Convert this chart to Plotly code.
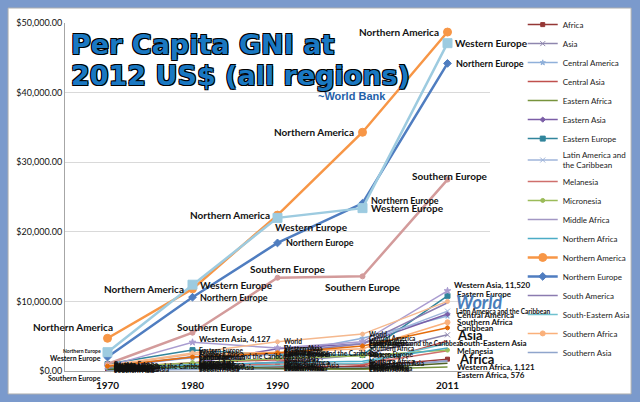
import plotly.graph_objects as go

years = ["1970", "1980", "1990", "2000", "2011"]

# per capita GNI, 2012 US$
africa = [250, 700, 700, 650, 1700]
asia = [200, 600, 1300, 2300, 5200]
central_america = [600, 1900, 2400, 4700, 7900]
central_asia = [500, 1200, 1600, 800, 4300]
eastern_africa = [150, 400, 300, 250, 576]
eastern_asia = [300, 1100, 3200, 3900, 8200]
eastern_europe = [1000, 3000, 2300, 2300, 10800]
latin_america = [600, 2100, 2500, 4000, 8600]
melanesia = [300, 800, 1000, 1000, 2900]
micronesia = [500, 1200, 1800, 2200, 3000]
middle_africa = [200, 600, 500, 350, 1500]
northern_africa = [250, 900, 1200, 1400, 3300]
northern_america = [4700, 11800, 22400, 34300, 48700]
northern_europe = [2000, 10600, 18400, 24100, 44200]
south_america = [500, 2000, 2500, 3900, 9800]
south_eastern_asia = [150, 500, 800, 1100, 4000]
southern_africa = [800, 2400, 2700, 3200, 7000]
southern_asia = [100, 250, 350, 450, 1400]
southern_europe = [1000, 5500, 13400, 13600, 27500]
western_europe = [2700, 12400, 22000, 23400, 47100]
western_asia = [700, 4127, 3300, 4200, 11520]
western_africa = [200, 700, 400, 350, 1121]
world = [800, 2600, 4200, 5300, 10000]
caribbean = [700, 2000, 2600, 3600, 6200]

# name, values, colour, marker, marker size, line width, in legend
series = [
    ("Africa", africa, "#953735", "square", 4, 1.5, True),
    ("Asia", asia, "#8e86ae", "x-thin-open", 5, 1.5, True),
    ("Central America", central_america, "#8fb0da", "star", 4, 1.5, True),
    ("Central Asia", central_asia, "#c0504d", None, 0, 1.5, True),
    ("Eastern Africa", eastern_africa, "#77933c", None, 0, 1.5, True),
    ("Eastern Asia", eastern_asia, "#7b5ea7", "diamond", 4, 1.5, True),
    ("Eastern Europe", eastern_europe, "#31859c", "square", 5, 1.5, True),
    ("Latin America and<br>the Caribbean", latin_america, "#9fb4da", "x-thin-open", 5, 1.5, True),
    ("Melanesia", melanesia, "#cf6f6c", None, 0, 1.5, True),
    ("Micronesia", micronesia, "#9bbb59", "circle", 4, 1.5, True),
    ("Middle Africa", middle_africa, "#a297c4", None, 0, 1.5, True),
    ("Northern Africa", northern_africa, "#4bacc6", None, 0, 1.5, True),
    ("Northern America", northern_america, "#f79646", "circle", 8, 2.5, True),
    ("Northern Europe", northern_europe, "#4f7dc0", "diamond", 6, 2.5, True),
    ("South America", south_america, "#8b7bb0", None, 0, 1.5, True),
    ("South-Eastern Asia", south_eastern_asia, "#6fc1cf", None, 0, 1.5, True),
    ("Southern Africa", southern_africa, "#fab07a", "circle", 5, 1.5, True),
    ("Southern Asia", southern_asia, "#8fa5cc", None, 0, 1.5, True),
    ("Southern Europe", southern_europe, "#d39b9b", "circle", 5, 2.5, False),
    ("Western Europe", western_europe, "#9dcbe0", "square", 9, 2.5, False),
    ("Western Asia", western_asia, "#a99cd0", "star", 5, 1.5, False),
    ("Western Africa", western_africa, "#4f6228", None, 0, 1.5, False),
    ("World", world, "#f5b88e", "circle", 4, 1.5, False),
    ("Caribbean", caribbean, "#e46c0a", "circle", 4, 1.5, False),
]

fig = go.Figure()
for i, (name, vals, col, sym, msize, lw, leg) in enumerate(series):
    fig.add_trace(go.Scatter(
        x=years, y=vals, name=name, legendgroup=str(i),
        mode="lines+markers" if sym else "lines",
        line=dict(color=col, width=lw),
        marker=dict(symbol=sym or "circle", size=msize, color=col,
                    line=dict(color=col, width=1)),
        showlegend=leg))

lbl_font = "Lato"
annots = []

def label(vals, idx, text, anchor, xs, ys, size=9.5, color="#111", weight="bold", style="normal"):
    # x given as category index, y read from the series
    annots.append(dict(x=idx, y=vals[idx], text=text, showarrow=False,
                       xanchor=anchor, yanchor="middle", xshift=xs, yshift=ys,
                       font=dict(family=lbl_font, size=size, color=color,
                                 weight=weight, style=style)))

# small cluttered labels on the crowded series
small = [s for s in series if s[0] not in
         ("Northern America", "Northern Europe", "Southern Europe", "Western Europe")]
for name, vals, *_ in small:
    for idx in range(4):
        if name == "Western Asia" and idx == 1:
            continue
        label(vals, idx, name.replace("<br>", " "), "left", 4, 0, size=6.5)

label(western_asia, 1, "Western Asia, 4,127", "left", 4, 3, size=8)

# big series labels
label(northern_america, 0, "Northern America", "right", 7, 11, size=10)
label(northern_america, 1, "Northern America", "right", -7, 0, size=10)
label(northern_america, 2, "Northern America", "right", -6, 0, size=10)
label(northern_america, 3, "Northern America", "right", -7, 0, size=10)
label(northern_america, 4, "Northern America", "right", -7, 0, size=10)

label(western_europe, 0, "Western Europe", "right", -5, -6, size=7)
label(western_europe, 1, "Western Europe", "left", 5, 0, size=10)
label(western_europe, 2, "Western Europe", "left", -5, -9, size=10)
label(western_europe, 3, "Western Europe", "left", 6, 0, size=10)
label(western_europe, 4, "Western Europe", "left", 5, 0, size=10)

label(northern_europe, 0, "Northern Europe", "right", -5, 6, size=5)
label(northern_europe, 1, "Northern Europe", "left", 5, 0, size=9)
label(northern_europe, 2, "Northern Europe", "left", 6, 0, size=9)
label(northern_europe, 3, "Northern Europe", "left", 6, 3, size=9)
label(northern_europe, 4, "Northern Europe", "left", 6, 0, size=9)

label(southern_europe, 0, "Southern Europe", "right", -5, -14, size=7)
label(southern_europe, 1, "Southern Europe", "center", 22, 6, size=10)
label(southern_europe, 2, "Southern Europe", "center", 10, 9, size=10)
label(southern_europe, 3, "Southern Europe", "center", 0, -11, size=10)
label(southern_europe, 4, "Southern Europe", "center", 2, 4, size=10)

# right-hand labels at 2011
label(western_asia, 4, "Western Asia, 11,520", "left", 4, 6, size=8)
label(eastern_europe, 4, "Eastern Europe", "left", 7, 2, size=8)
label(world, 4, "World", "left", 6, -1, size=18, color="#4a7ebb", style="italic")
label(latin_america, 4, "Latin America and the Caribbean", "left", 6, 0, size=6.5)
label(central_america, 4, "Central America", "left", 7, 1, size=8)
label(southern_africa, 4, "Southern Africa", "left", 7, 0, size=8)
label(caribbean, 4, "Caribbean", "left", 7, 0, size=8)
label(asia, 4, "Asia", "left", 7, 0, size=13)
label(south_eastern_asia, 4, "South-Eastern Asia", "left", 9, 0, size=8)
label(melanesia, 4, "Melanesia", "left", 7, 0, size=8)
label(africa, 4, "Africa", "left", 9, 0, size=13)
label(western_africa, 4, "Western Africa, 1,121", "left", 7, -4, size=8)
label(eastern_africa, 4, "Eastern Africa, 576", "left", 7, -8, size=8)

# title block, one annotation per line
title_font = dict(family="DejaVu Sans", size=27, color="#1a78c2", weight="bold",
                  shadow="1px 1px 0 #000, -1px -1px 0 #000, 1px -1px 0 #000, -1px 1px 0 #000")
for txt, ty in [("Per Capita GNI at", 0.937), ("2012 US$ (all regions)", 0.848)]:
    annots.append(dict(xref="paper", yref="paper", x=0.009, y=ty, xanchor="left",
                       yanchor="middle", align="left", showarrow=False,
                       text=txt, font=title_font))
annots.append(dict(xref="paper", yref="paper", x=0.675, y=0.79, xanchor="center",
                   yanchor="middle", showarrow=False, text="~World Bank",
                   font=dict(family="Liberation Sans", size=11, color="#1f5fa8", weight="bold")))

fig.update_layout(
    width=640, height=402,
    margin=dict(l=65, r=150, t=23, b=31, autoexpand=False),
    paper_bgcolor="#7b9acc",
    plot_bgcolor="white",
    showlegend=True,
    legend=dict(x=1.077, y=1.037, xanchor="left", yanchor="top",
                font=dict(family=lbl_font, size=8, color="#222"),
                itemwidth=30, tracegroupgap=0, maxheight=380,
                bgcolor="rgba(0,0,0,0)"),
    annotations=annots,
    shapes=[dict(type="rect", xref="paper", yref="paper", layer="below",
                 x0=-0.134, x1=1.332, y0=-0.066, y1=1.043,
                 fillcolor="white", line=dict(color="#b0b0b0", width=1))],
    xaxis=dict(type="category", range=[-0.5, 4.5], showgrid=False,
               showline=True, linecolor="#a6a6a6", ticks="", ticklabelstandoff=5,
               tickfont=dict(family=lbl_font, size=10, color="#111", weight="bold")),
    yaxis=dict(range=[0, 50000], dtick=10000, tickformat="$,.2f",
               showgrid=True, gridcolor="#d9d9d9", zeroline=False,
               showline=True, linecolor="#a6a6a6",
               tickfont=dict(family=lbl_font, size=9, color="#111")),
)
fig.update_traces(cliponaxis=False)

# drop the browser's default 8px page margin so the figure sits at the corner
fig.write_html("out.html", config={"displayModeBar": False},
               post_script="document.body.style.margin='0';")
